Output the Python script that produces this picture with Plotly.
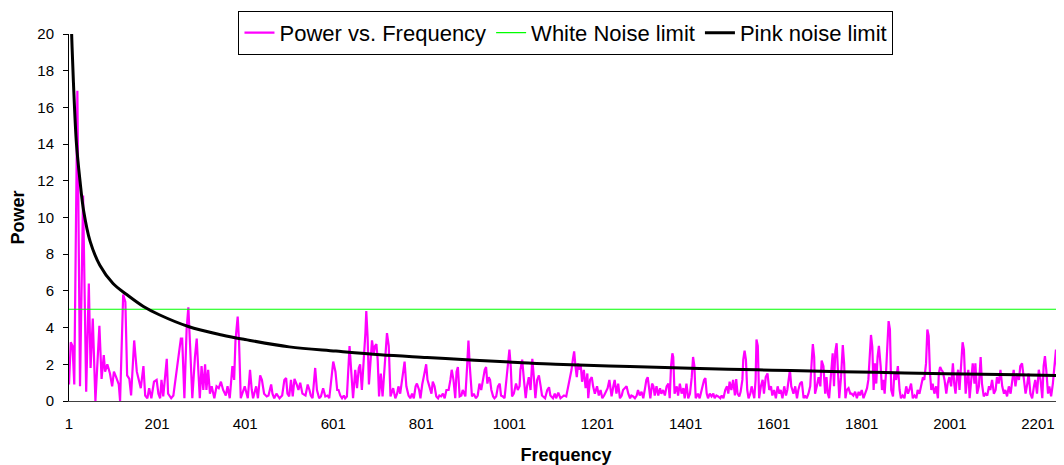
import plotly.graph_objects as go

# Magenta series: vertices (frequency, power)
freq = [1, 5, 9, 13, 20, 26, 33, 40, 46, 50, 55, 61, 70, 75, 80, 83, 88, 94, 99, 103,
        108, 114, 117, 124, 129, 133, 138, 142, 149, 155, 159, 164, 170, 174, 179, 183, 188, 194,
        200, 204, 208, 211, 215, 223, 226, 233, 238, 243, 249, 255, 258, 263, 268, 272, 276, 281,
        287, 291, 295, 298, 302, 306, 310, 313, 317, 321, 325, 331, 336, 341, 346, 351, 357, 361,
        366, 372, 376, 379, 384, 387, 391, 397, 400,
        407, 412, 416, 419, 426, 430, 435, 439, 444, 450, 454, 460, 463, 467, 472, 479, 485, 490,
        494, 497, 501, 505, 509, 513, 518, 522, 526, 531, 538, 543, 547, 550, 554, 560, 564, 569,
        573, 578, 583, 588, 592, 598, 601, 606, 610,
        613, 617, 621, 625, 628, 632, 638, 641, 646, 651, 655, 659, 662, 666, 670, 674, 676, 679,
        682, 685, 689, 693, 696, 699, 702, 705, 709, 713, 719, 723, 727, 731, 737, 742, 746, 749,
        753, 759, 763, 767, 772, 776, 780, 784, 788, 791, 796, 799, 803, 808, 812, 815,
        820, 824, 827, 831, 835, 839, 842, 846, 850, 854, 858, 863, 867, 870, 874, 878, 881, 884,
        888, 892, 895, 901, 905, 908, 911, 916, 920, 925, 929, 933, 937, 941, 945, 948, 951, 954,
        957, 960, 964, 967, 971, 975, 979, 982, 986, 990, 995, 998, 1001, 1004, 1007, 1011, 1016,
        1020, 1024,
        1026, 1030, 1034, 1038, 1041, 1045, 1049, 1053, 1057, 1060, 1064, 1068, 1072, 1075, 1082,
        1087, 1091, 1094, 1100, 1104, 1107, 1112, 1117, 1121, 1125, 1130, 1135, 1138, 1142, 1145,
        1148, 1151, 1154, 1157, 1160, 1163, 1166, 1170, 1174, 1178, 1180, 1184, 1188, 1191, 1195,
        1200, 1204, 1208, 1212, 1216, 1221, 1224, 1228,
        1233, 1237, 1240, 1244, 1248, 1252, 1256, 1259, 1263, 1267, 1271, 1275, 1278, 1282, 1286,
        1290, 1293, 1297, 1301, 1305, 1309, 1312, 1315, 1318, 1321, 1325, 1328, 1331, 1335, 1339,
        1343, 1346, 1350, 1354, 1358, 1362, 1365, 1368, 1371, 1373, 1376, 1381, 1384, 1388, 1392,
        1396, 1399, 1403, 1407, 1411, 1415, 1418, 1421, 1424, 1429, 1433,
        1439, 1443, 1446, 1449, 1452, 1456, 1460, 1464, 1467, 1471, 1475, 1480, 1483, 1487, 1491,
        1495, 1498, 1501, 1505, 1509, 1513, 1516, 1519, 1523, 1526, 1530, 1532, 1535, 1538, 1541,
        1544, 1548, 1551, 1554, 1557, 1560, 1562, 1565, 1568, 1572, 1576, 1579, 1583, 1587, 1591,
        1595, 1598, 1602, 1606, 1610, 1614, 1617, 1621, 1625, 1629, 1632, 1636, 1638, 1641,
        1646, 1650, 1654, 1657, 1661, 1665, 1669, 1672, 1676, 1680, 1684, 1688, 1690, 1693, 1695,
        1699, 1703, 1707, 1710, 1714, 1718, 1721, 1724, 1727, 1731, 1735, 1738, 1741, 1744, 1747,
        1750, 1754, 1758, 1761, 1764, 1767, 1771, 1775, 1778, 1782, 1786, 1790, 1794, 1797, 1801,
        1805, 1809, 1813, 1816, 1819, 1822, 1825, 1828, 1831, 1834, 1837, 1840, 1844, 1847, 1850,
        1853, 1856, 1860, 1862, 1865, 1868, 1872, 1875, 1879, 1883, 1887, 1890, 1894, 1898, 1902,
        1906, 1909, 1913, 1917, 1921, 1925, 1928, 1932, 1936, 1940, 1943, 1947, 1950, 1953, 1956,
        1959, 1962, 1966, 1970, 1974, 1976, 1979, 1982, 1985, 1989, 1993, 1996, 2000, 2004, 2008,
        2011, 2014, 2017, 2020, 2023, 2027, 2030, 2033, 2037, 2040, 2043, 2046, 2049, 2053, 2057,
        2059, 2063, 2067, 2071, 2074, 2078, 2082, 2086, 2090, 2093, 2097, 2101, 2105, 2108, 2112,
        2116, 2120, 2124, 2127, 2131, 2135, 2139, 2143, 2146, 2150, 2154, 2158, 2161, 2165, 2169,
        2173, 2177, 2180, 2184, 2188, 2192, 2195, 2199, 2203, 2207, 2211, 2214, 2217, 2220, 2224,
        2227, 2231, 2235, 2239, 2242, 2245, 2248, 2251, 2254, 2257, 2258]

power = [0.9, 3.2, 3.0, 0.9, 16.9, 0.8, 11.2, 0.5, 6.4, 1.8, 4.5, 0.0, 4.1, 1.2, 2.5, 1.6, 2.0, 1.5, 0.8, 1.6,
         1.3, 0.9, 0.0, 5.8, 5.4, 1.4, 1.2, 0.3, 3.3, 1.6, 1.2, 0.7, 1.9, 0.3, 0.15, 0.7, 0.15, 1.05,
         1.15, 0.4, 0.15, 1.15, 0.25, 2.3, 0.4, 0.15, 0.3, 1.15, 2.25, 3.4, 3.4, 0.15, 3.9, 5.1, 3.0, 0.15,
         2.4, 3.4, 1.5, 0.15, 1.9, 0.6, 2.0, 0.6, 1.7, 0.4, 0.8, 0.15, 0.8, 0.7, 1.05, 0.6, 0.3, 0.8,
         0.15, 1.9, 1.15, 3.3, 4.6, 3.3, 0.15, 0.6, 0.8,
         0.15, 1.7, 0.6, 0.15, 0.8, 0.15, 1.4, 1.15, 0.4, 0.25, 0.3, 0.9, 0.4, 0.15, 0.4, 0.15, 0.3, 1.15,
         1.25, 0.4, 0.25, 1.15, 0.25, 1.2, 0.9, 0.6, 1.0, 0.4, 0.3, 0.9, 0.6, 0.3, 0.15, 1.8, 0.6, 0.15,
         0.25, 0.7, 0.25, 0.3, 0.15, 1.3, 2.15, 1.6, 0.6,
         0.6, 0.3, 0.15, 0.3, 0.15, 0.25, 3.0, 2.05, 0.15, 1.7, 0.7, 1.8, 2.0, 0.6, 2.05, 3.7, 4.9, 3.5,
         0.9, 2.2, 3.3, 2.6, 3.0, 3.1, 2.2, 0.25, 1.5, 0.25, 2.05, 3.7, 3.0, 0.25, 0.7, 0.15, 0.4, 0.8,
         0.4, 1.5, 2.15, 0.8, 0.3, 0.15, 0.4, 0.15, 0.8, 0.95, 0.6, 0.15, 0.9, 1.5, 2.0, 1.15,
         0.7, 0.4, 1.05, 0.8, 0.25, 0.15, 0.3, 0.25, 0.4, 0.15, 0.6, 0.6, 1.15, 1.7, 1.15, 0.15, 1.6, 1.85,
         0.25, 0.3, 0.6, 0.25, 1.9, 3.3, 1.9, 0.25, 0.4, 0.15, 0.3, 0.95, 0.6, 1.15, 1.7, 1.85, 0.95, 1.3,
         1.15, 0.6, 0.25, 0.15, 0.25, 0.8, 0.95, 0.3, 0.25, 0.15, 1.3, 2.05, 2.8, 1.9, 0.25, 0.4, 0.95,
         0.6, 0.8,
         1.7, 2.25, 1.15, 0.15, 0.8, 1.3, 0.6, 2.3, 1.15, 0.15, 1.15, 1.4, 0.8, 0.3, 0.15,
         0.6, 0.75, 0.3, 0.15, 0.4, 0.15, 0.45, 0.15, 0.25, 0.3, 0.25, 0.8, 1.3, 1.7, 2.25,
         2.7, 1.9, 1.3, 2.05, 1.7, 1.95, 1.05, 1.7, 0.7, 1.5, 0.15, 1.15, 1.3, 0.8, 0.4,
         0.8, 0.3, 0.6, 0.15, 0.3, 0.6, 0.7, 1.15,
         0.25, 0.8, 1.15, 0.4, 0.95, 0.15, 0.3, 0.6, 0.7, 0.8, 0.4, 0.15, 0.3, 0.25, 0.15,
         0.3, 0.6, 0.3, 0.5, 0.15, 0.7, 1.15, 1.3, 0.6, 0.15, 0.95, 0.8, 0.3, 0.8, 0.3,
         0.7, 0.4, 0.6, 0.3, 0.8, 0.95, 0.15, 1.9, 2.6, 2.4, 0.4, 0.8, 0.3, 0.95, 0.4,
         0.7, 0.15, 0.95, 0.15, 0.4, 1.3, 2.4, 1.9, 0.15, 0.4, 0.15,
         0.8, 1.15, 1.25, 0.4, 0.15, 0.4, 0.25, 0.4, 0.15, 0.3, 0.25, 0.15, 0.3, 0.15, 0.6,
         0.8, 0.4, 1.05, 0.6, 1.15, 0.3, 1.2, 0.4, 0.25, 0.5, 1.15, 2.25, 2.75, 2.25, 0.6,
         0.15, 0.4, 0.8, 0.4, 0.15, 1.15, 3.35, 3.0, 0.15, 0.8, 1.15, 0.4, 1.3, 1.5, 0.6,
         0.8, 0.3, 0.6, 0.15, 0.8, 0.4, 0.6, 0.15, 0.8, 0.3, 0.6, 1.3, 1.7, 0.8,
         0.4, 0.8, 0.15, 0.6, 0.95, 1.05, 0.15, 0.3, 0.15, 0.4, 0.8, 2.4, 3.1, 2.4, 0.4,
         0.8, 1.3, 0.8, 2.2, 1.9, 0.4, 1.3, 0.4, 0.15, 1.3, 2.6, 0.8, 2.7, 3.15, 1.9,
         0.15, 1.3, 3.05, 2.05, 0.15, 0.6, 0.7, 0.4, 0.4, 0.3, 0.5, 0.15, 0.5, 0.3, 0.6,
         0.15, 0.4, 0.7, 1.15, 2.8, 3.6, 2.95, 0.6, 2.05, 0.95, 2.4, 3.0, 1.9, 0.6, 1.15,
         0.4, 1.5, 3.0, 4.35, 3.9, 0.6, 0.25, 1.5, 1.15, 1.9, 0.6, 0.15, 0.3, 0.15, 0.8,
         0.4, 0.6, 0.95, 0.15, 0.3, 0.15, 0.6, 0.4, 0.8, 1.3, 1.15, 2.05, 3.9, 3.55, 1.5,
         0.6, 0.95, 0.4, 0.8, 0.15, 1.5, 1.85, 1.7, 1.6, 1.15, 0.4, 0.95, 1.3, 0.8, 2.05,
         0.95, 0.4, 1.3, 1.7, 0.6, 2.05, 3.2, 2.8, 0.4, 1.15, 1.7, 0.15, 1.15, 2.05, 0.95,
         2.05, 0.4, 0.8, 2.4, 0.95, 0.25, 0.4, 0.3, 0.8, 0.6, 1.15, 0.4, 0.6, 1.3, 0.95,
         1.7, 0.8, 0.4, 0.6, 0.25, 0.8, 0.4, 1.15, 1.7, 0.8, 1.5, 1.15, 1.9, 2.05, 1.15,
         0.4, 0.95, 1.5, 0.4, 0.15, 0.8, 1.15, 0.4, 1.7, 1.15, 0.15, 1.9, 2.45, 1.7, 0.4,
         0.8, 0.25, 0.95, 1.9, 2.8, 1.7, 0.4, 1.9, 2.6, 2.05, 0.15]

# White noise limit
white_x = [1, 2258]
white_y = [5, 5]

# Pink noise limit
pink_x = [4, 7, 11, 18, 26, 34, 49, 71, 101, 132, 170, 206, 272, 348, 401, 501, 607, 708,
          814, 922, 1020, 1106, 1227, 1354, 1433, 1564, 1640, 1832, 1993, 2258]
pink_y = [22.5, 20.0, 17.4, 14.0, 12.0, 10.4, 8.7, 7.4, 6.4, 5.8, 5.15, 4.7, 4.06, 3.6, 3.35,
          2.95, 2.72, 2.52, 2.37, 2.22, 2.1, 2.0, 1.91, 1.82, 1.77, 1.7, 1.66, 1.56, 1.49, 1.39]

x_ticks = [1, 201, 401, 601, 801, 1001, 1201, 1401, 1601, 1801, 2001, 2201]
y_ticks = [0, 2, 4, 6, 8, 10, 12, 14, 16, 18, 20]

FONT = "Arial, Liberation Sans, sans-serif"

fig = go.Figure()
fig.add_trace(go.Scatter(x=freq, y=power, mode="lines", name="Power vs. Frequency",
                         line=dict(color="#FF00FF", width=2.2)))
fig.add_trace(go.Scatter(x=white_x, y=white_y, mode="lines", name="White Noise limit",
                         line=dict(color="#00FF00", width=1.2)))
fig.add_trace(go.Scatter(x=pink_x, y=pink_y, mode="lines", name="Pink noise limit",
                         line=dict(color="#000000", width=3, shape="spline", smoothing=1.0)))

# page body adds an 8px offset, so the figure is sized and placed to compensate
fig.update_layout(
    width=1056, height=457,
    margin=dict(l=61, r=1, t=26, b=64, autoexpand=False),
    paper_bgcolor="white", plot_bgcolor="white",
    font=dict(family=FONT, color="black", size=15),
    showlegend=True,
    legend=dict(orientation="h", x=0.1705, xanchor="left", y=1.063, yanchor="top",
                bgcolor="white", bordercolor="black", borderwidth=1,
                font=dict(size=22, family=FONT), itemwidth=30,
                tracegroupgap=0),
)
fig.update_xaxes(range=[1, 2258], tickvals=x_ticks, ticktext=[str(t) for t in x_ticks],
                 showgrid=False, zeroline=False, showline=True, linecolor="#404040", linewidth=1,
                 ticks="", tickfont=dict(size=15), ticklabelstandoff=9,
                 title=dict(text="<b>Frequency</b>", font=dict(size=18), standoff=18))
fig.update_yaxes(range=[0, 20], tickvals=y_ticks, showgrid=False, zeroline=False,
                 showline=True, linecolor="black", linewidth=1, ticks="outside", ticklen=5,
                 tickcolor="black", tickfont=dict(size=15), ticklabelstandoff=6,
                 title=dict(text="<b>Power</b>", font=dict(size=18), standoff=10))

fig.write_html("out.html")
